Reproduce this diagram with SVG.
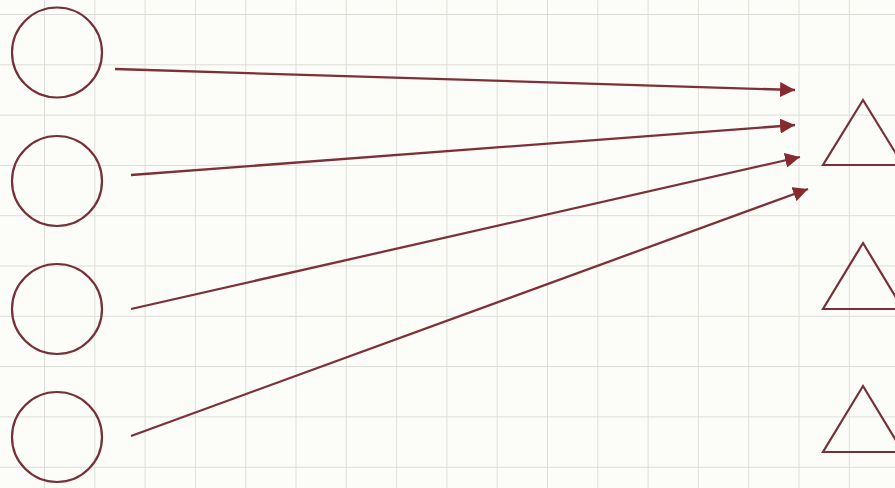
<svg xmlns="http://www.w3.org/2000/svg" width="895" height="488" viewBox="0 0 895 488">
<defs>
<pattern id="grid" x="-5.3" y="-35.3" width="50.3" height="50.3" patternUnits="userSpaceOnUse">
<path d="M50.3 0 V50.3 M0 50.3 H50.3" fill="none" stroke="#dcdcd7" stroke-width="1.8"/>
</pattern>
<marker id="arr" viewBox="0 0 10 10" refX="10" refY="5" markerWidth="6.5" markerHeight="6.5" markerUnits="strokeWidth" orient="auto">
<path d="M0 0 L10 5 L0 10 Z" fill="#862a30"/>
</marker>
<style>
.node{fill:none;stroke:#763038;stroke-width:2.2}
.edge{fill:none;stroke:#7e3038;stroke-width:2.3;marker-end:url(#arr)}
</style>
</defs>
<rect width="895" height="488" fill="#fcfcf8"/>
<rect width="895" height="488" fill="url(#grid)"/>
<g id="c1"><circle class="node" cx="57" cy="52.5" r="45"/></g>
<g id="c2"><circle class="node" cx="57" cy="181" r="45"/></g>
<g id="c3"><circle class="node" cx="57" cy="309" r="45"/></g>
<g id="c4"><circle class="node" cx="57" cy="437" r="45"/></g>
<g id="t1"><polygon class="node" points="863,100 903,165 823,165"/></g>
<g id="t2"><polygon class="node" points="863,243 903,309 823,309"/></g>
<g id="t3"><polygon class="node" points="863,386 903,452 823,452"/></g>
<g id="edges">
<line class="edge" x1="115" y1="69" x2="795" y2="90"/>
<line class="edge" x1="131" y1="175" x2="795" y2="125"/>
<line class="edge" x1="131" y1="309" x2="800" y2="157"/>
<line class="edge" x1="131" y1="436" x2="808" y2="189"/>
</g>
</svg>
